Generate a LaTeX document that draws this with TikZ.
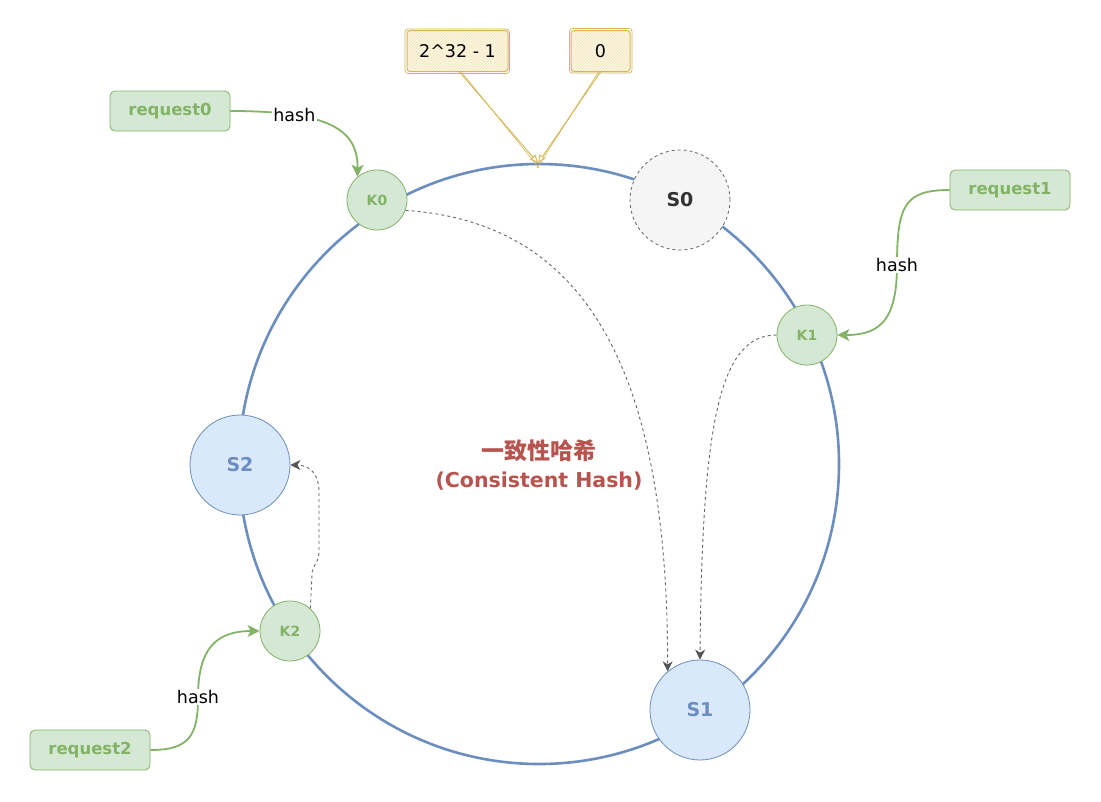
\documentclass[tikz,border=0pt]{standalone}
\usepackage{fontspec}
\setmainfont{DejaVu Sans}
\newfontfamily\cjkfont{Noto Sans CJK SC}
\usetikzlibrary{arrows.meta,patterns}
\definecolor{ring}{HTML}{6C8EBF}
\definecolor{sfill}{HTML}{DAE8FC}
\definecolor{kfill}{HTML}{D5E8D4}
\definecolor{kline}{HTML}{82B366}
\definecolor{gfill}{HTML}{F5F5F5}
\definecolor{gline}{HTML}{666666}
\definecolor{stext}{HTML}{333333}
\definecolor{yfill}{HTML}{FFF2CC}
\definecolor{yline}{HTML}{D6B656}
\definecolor{titlec}{HTML}{B85450}
\definecolor{darrow}{HTML}{555555}
\tikzset{
  kcirc/.style={circle, draw=kline, fill=kfill, minimum size=60pt, inner sep=0pt, line width=0.8pt,
    text=kline, font=\fontsize{14}{16}\selectfont\bfseries},
  scirc/.style={circle, draw=ring, fill=sfill, minimum size=100pt, inner sep=0pt, line width=0.8pt,
    text=ring, font=\fontsize{19}{22}\selectfont\bfseries},
  s0circ/.style={circle, draw=gline, fill=gfill, dashed, dash pattern=on 3pt off 3pt, minimum size=100pt,
    inner sep=0pt, line width=0.8pt, text=stext, font=\fontsize{19}{22}\selectfont\bfseries},
  reqbox/.style={rectangle, rounded corners=5pt, draw=kline, fill=kfill, line width=0.8pt,
    minimum width=120pt, minimum height=40pt, text=kline, font=\fontsize{16.5}{19}\selectfont\bfseries},
  ybox/.style={rectangle, rounded corners=3pt, draw=yline, line width=1pt, preaction={fill=yfill!55},
    pattern=north east lines, pattern color=yline!40, minimum height=41pt, inner sep=0pt,
    font=\fontsize{17.5}{20}\selectfont},
  ysketch/.style={draw=yline, line width=0.7pt, rounded corners=3pt},
  yarrow/.style={draw=yline, line width=0.9pt, -{Triangle[open,length=8pt,width=7pt]}},
  hasharrow/.style={draw=kline, line width=1.8pt, -{Stealth[length=12pt,width=12pt,inset=3pt]}},
  dasharrow/.style={draw=gline, line width=0.9pt, dash pattern=on 3pt off 3pt,
    -{Stealth[length=10pt,width=10pt,inset=3pt,color=darrow,sep=0pt]}},
  hashlbl/.style={fill=white, inner sep=1.5pt, font=\fontsize{17.5}{19}\selectfont},
  titlelbl/.style={text=titlec, font=\fontsize{20.5}{24}\selectfont\bfseries, inner sep=0pt},
}
\begin{document}
\begin{tikzpicture}[x=1pt,y=-1pt]
\useasboundingbox (0,0) rectangle (1101,801);
\fill[white] (0,0) rectangle (1101,801);

% ring
\node[circle, draw=ring, line width=2.6pt, minimum size=600pt, inner sep=0pt] (ringc) at (539,464) {};
\coordinate (ringtop) at (538,163);

% ring nodes
\node[kcirc] (K0) at (377,200) {K0};
\node[s0circ] (S0) at (680,200) {S0};
\node[kcirc] (K1) at (807,335) {K1};
\node[scirc] (S2) at (240,465) {S2};
\node[kcirc] (K2) at (290,631) {K2};
\node[scirc] (S1) at (700,710) {S1};

% requests
\node[reqbox] (req0) at (170,111) {request0};
\node[reqbox] (req1) at (1010,190) {request1};
\node[reqbox] (req2) at (90,750) {request2};

% yellow boxes
\node[ybox, minimum width=101pt] (ymax) at (457.5,51) {2\^{}32 - 1};
\node[ybox, minimum width=59pt] (yzero) at (600.5,51) {0};
\draw[ysketch] ([xshift=-1.5pt,yshift=1pt]ymax.north west) rectangle ([xshift=1pt,yshift=-1.5pt]ymax.south east);
\draw[ysketch] ([xshift=-1pt,yshift=1.5pt]yzero.north west) rectangle ([xshift=1.5pt,yshift=-1pt]yzero.south east);

\draw[yarrow] ([xshift=2pt]ymax.south) -- (ringtop);
\draw[draw=yline, line width=0.6pt] ([xshift=4pt]ymax.south) -- ([xshift=1pt,yshift=-5pt]ringtop);
\draw[yarrow] (yzero.south) -- (ringtop);
\draw[draw=yline, line width=0.6pt] ([xshift=-2pt]yzero.south) -- ([xshift=-1pt,yshift=-5pt]ringtop);

% hash arrows
\draw[hasharrow] (req0.east) .. controls (330,111) and (358,130) .. (K0.130)
  node[hashlbl, pos=0.26] {hash};
\draw[hasharrow] (req1.west) .. controls (905,190) and (897,205) .. (897,265)
  node[hashlbl] {hash}
  .. controls (897,320) and (880,335) .. (K1.east);
\draw[hasharrow] (req2.east) .. controls (190,750) and (198,735) .. (198,697)
  node[hashlbl] {hash}
  .. controls (198,650) and (215,631) .. (K2.west);

% dashed mapping arrows
\draw[dasharrow] (K0.-20) .. controls (580,222) and (668,360) .. (S1.130);
\draw[dasharrow] (K1.west) .. controls (720,335) and (702,420) .. (S1.north);
\draw[dasharrow] (K2.48) -- (312,575) .. controls (312,563) and (319,566) .. (319,550)
  -- (319,492) .. controls (319,472) and (308,465) .. (S2.east);

% title
\node[titlelbl] (title1) at (539,451) {\cjkfont\bfseries\fontsize{23}{26}\selectfont 一致性哈希};
\node[titlelbl] (title2) at (539,481) {(Consistent Hash)};
\end{tikzpicture}
\end{document}
